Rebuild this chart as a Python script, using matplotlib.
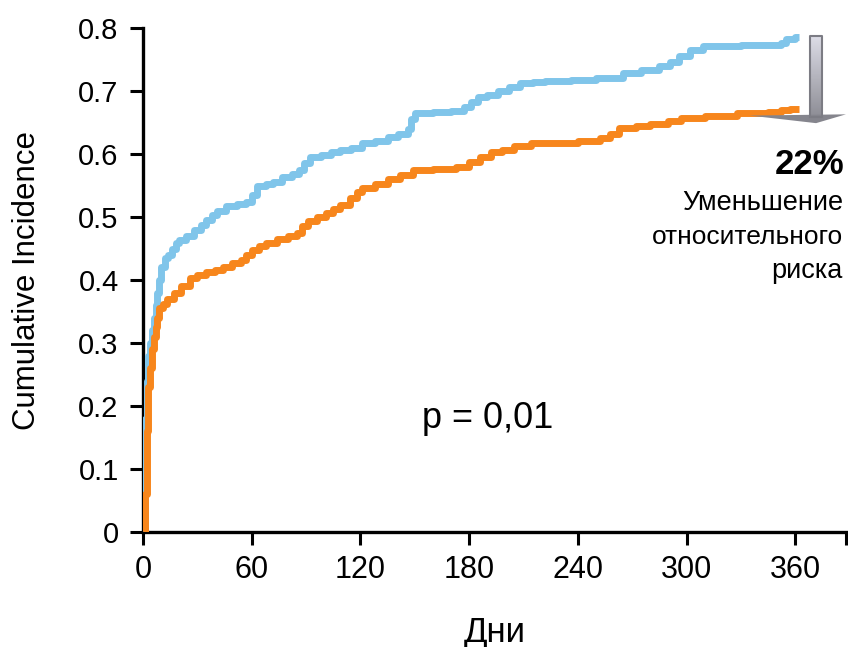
import numpy as np
import matplotlib
matplotlib.use("Agg")
import matplotlib.pyplot as plt
from matplotlib.patches import Polygon
from matplotlib.colors import LinearSegmentedColormap

plt.rcParams['font.family'] = ['Liberation Sans', 'DejaVu Sans']

# cumulative incidence curves (day, value)
days_blue = [0, 1, 2, 3, 4, 5, 6, 7, 8, 9, 10, 12, 14, 16, 18, 20, 24, 28, 32, 35,
             38, 41, 46, 52, 57, 60, 63, 68, 72, 77, 82, 86, 89, 92, 98, 104, 109,
             115, 121, 128, 135, 141, 146, 148, 150, 160, 170, 177, 181, 185, 190,
             196, 202, 208, 215, 222, 236, 250, 265, 275, 285, 291, 296, 302, 309,
             330, 352, 355, 360, 362]
inc_blue = [0.0, 0.18, 0.24, 0.28, 0.30, 0.32, 0.34, 0.36, 0.38, 0.40, 0.42, 0.435,
            0.44, 0.45, 0.458, 0.463, 0.47, 0.48, 0.487, 0.495, 0.503, 0.51, 0.518,
            0.521, 0.524, 0.535, 0.55, 0.553, 0.556, 0.564, 0.568, 0.575, 0.585,
            0.595, 0.599, 0.603, 0.606, 0.61, 0.617, 0.62, 0.627, 0.632, 0.64, 0.655,
            0.665, 0.667, 0.669, 0.674, 0.683, 0.69, 0.694, 0.70, 0.706, 0.712,
            0.715, 0.716, 0.717, 0.72, 0.728, 0.734, 0.74, 0.746, 0.755, 0.765,
            0.772, 0.773, 0.776, 0.782, 0.786, 0.786]

days_orange = [0, 1, 2, 3, 4, 5, 6, 7, 8, 9, 11, 13, 17, 21, 26, 30, 35, 40, 44, 49,
               54, 57, 60, 64, 68, 74, 80, 85, 88, 91, 96, 101, 105, 109, 114, 118,
               121, 128, 135, 142, 149, 160, 173, 180, 186, 192, 198, 205, 214, 225,
               240, 252, 258, 263, 272, 280, 290, 297, 310, 328, 345, 352, 357, 362]
inc_orange = [0.0, 0.06, 0.16, 0.23, 0.26, 0.29, 0.31, 0.325, 0.34, 0.355, 0.362,
              0.37, 0.379, 0.39, 0.403, 0.408, 0.412, 0.416, 0.421, 0.427, 0.432,
              0.44, 0.448, 0.454, 0.459, 0.465, 0.47, 0.475, 0.485, 0.493, 0.5,
              0.507, 0.513, 0.519, 0.53, 0.54, 0.546, 0.552, 0.56, 0.567, 0.575,
              0.577, 0.58, 0.587, 0.595, 0.603, 0.607, 0.612, 0.617, 0.618, 0.62,
              0.625, 0.632, 0.641, 0.644, 0.648, 0.653, 0.657, 0.66, 0.665, 0.667,
              0.67, 0.672, 0.672]

xticks = [0, 60, 120, 180, 240, 300, 360]
yticks = [0, 0.1, 0.2, 0.3, 0.4, 0.5, 0.6, 0.7, 0.8]
ytick_labels = ['0', '0.1', '0.2', '0.3', '0.4', '0.5', '0.6', '0.7', '0.8']

fig = plt.figure(figsize=(8.48, 6.47), dpi=100)
ax = fig.add_axes([0.1686, 0.1777, 0.829, 0.779])

ax.plot(days_blue, inc_blue, drawstyle='steps-post', color='#80c5ea', lw=5,
        solid_capstyle='butt', zorder=3)
ax.plot(days_orange, inc_orange, drawstyle='steps-post', color='#f7861c', lw=5,
        solid_capstyle='butt', zorder=4)

ax.set_xticks(xticks)
ax.set_xticks([388], minor=True)
ax.set_yticks(yticks)
ax.set_yticklabels(ytick_labels)
ax.tick_params(axis='both', which='both', direction='out', length=9.5, width=2.2,
               color='black')
ax.tick_params(axis='y', labelsize=21, pad=8)
ax.tick_params(axis='x', labelsize=22, pad=7)
for s in ['top', 'right']:
    ax.spines[s].set_visible(False)
for s in ['left', 'bottom']:
    ax.spines[s].set_linewidth(2.4)

ax.set_ylabel('Cumulative Incidence', fontsize=22.5, labelpad=26)
ax.set_xlabel('Дни', fontsize=25, labelpad=22)

ax.text(190, 0.18, 'p = 0,01', fontsize=26, ha='center', va='center')

# arrow showing the gap between the curves at one year
grad = np.linspace(0, 1, 100).reshape(-1, 1)
ax.imshow(grad, cmap=LinearSegmentedColormap.from_list('g', ['#dcdce6', '#8e8e96']),
          extent=(368.3, 374.9, 0.659, 0.787), aspect='auto', zorder=5, clip_on=False)
ax.plot([368.3, 368.3, 374.9, 374.9, 368.3], [0.659, 0.787, 0.787, 0.659, 0.659],
        color='#7c7c84', lw=1.5, zorder=6, clip_on=False)
ax.add_patch(Polygon([(335, 0.661), (388, 0.663), (371.5, 0.649)], closed=True,
                     facecolor='#85858d', edgecolor='none', zorder=5, clip_on=False))
ax.set_xlim(0, 388)
ax.set_ylim(0, 0.8)

fig.text(844 / 848, 1 - 165 / 647, '22%', fontsize=25, fontweight='bold',
         ha='right', va='center')
fig.text(843 / 848, 1 - 203 / 647, 'Уменьшение', fontsize=19.5, ha='right', va='center')
fig.text(843 / 848, 1 - 237 / 647, 'относительного', fontsize=19, ha='right', va='center')
fig.text(843 / 848, 1 - 271 / 647, 'риска', fontsize=19.5, ha='right', va='center')

fig.savefig('out.png', dpi=100)
